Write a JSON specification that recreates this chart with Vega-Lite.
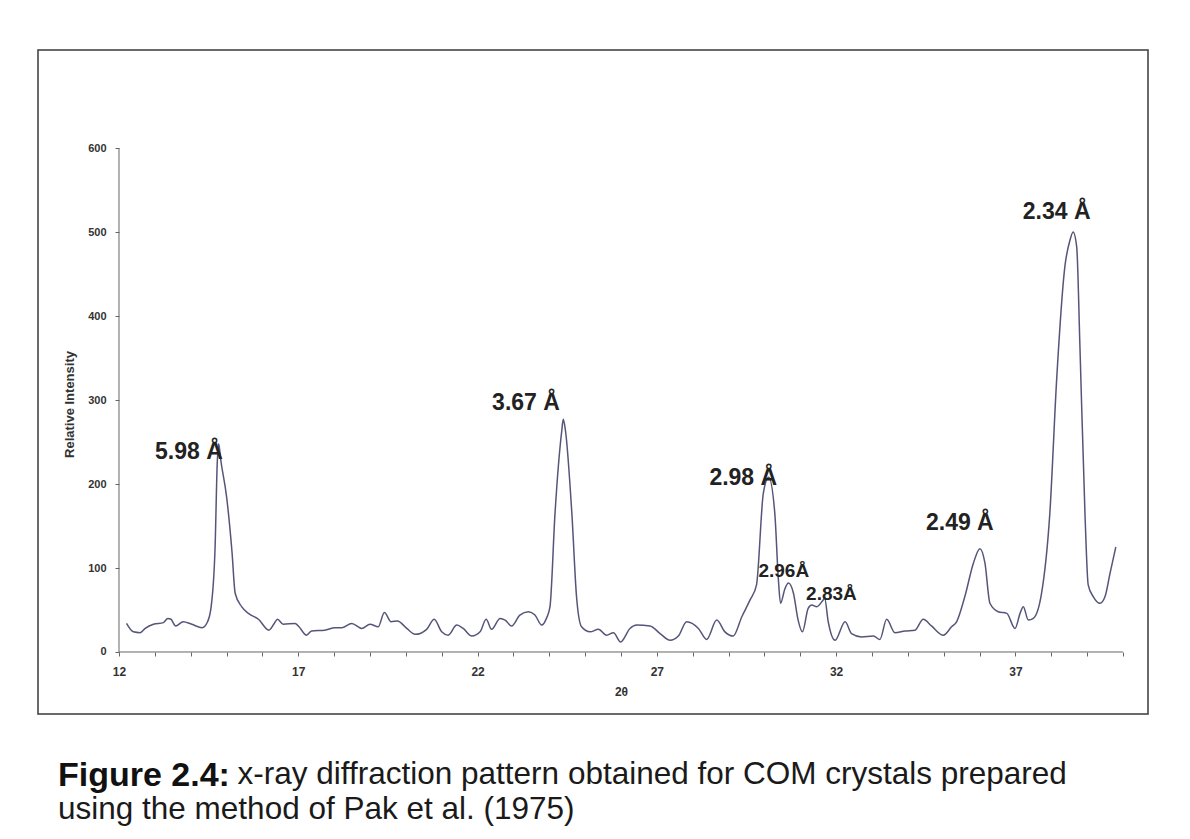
{
  "$schema": "https://vega.github.io/schema/vega-lite/v6.json",
  "width": 1110,
  "height": 664,
  "autosize": {"type": "none"},
  "padding": {"left": 38, "top": 50, "right": 42, "bottom": 125},
  "background": "white",
  "config": {
    "view": {"stroke": "#3a3a3a", "strokeWidth": 1.5},
    "font": "Liberation Sans"
  },
  "title": {
    "text": "Figure 2.4:",
    "subtitle": [
      "\u200B\u2003\u2003\u2003\u2003\u2003\u2002\u2009x-ray diffraction pattern obtained for COM crystals prepared",
      "using the method of Pak et al. (1975)"
    ],
    "orient": "bottom",
    "anchor": "start",
    "frame": "group",
    "offset": 45,
    "dx": 20,
    "font": "Liberation Sans",
    "fontSize": 34,
    "fontWeight": "bold",
    "color": "#111111",
    "lineHeight": 34,
    "subtitleFont": "Liberation Sans",
    "subtitleFontSize": 31.5,
    "subtitleFontWeight": "normal",
    "subtitleColor": "#1a1a1a",
    "subtitleLineHeight": 35,
    "subtitlePadding": -34
  },
  "resolve": {"axis": {"x": "independent"}},
  "datasets": {
    "xrd": [
      {"two_theta": 12.21, "intensity": 34},
      {"two_theta": 12.40, "intensity": 24},
      {"two_theta": 12.59, "intensity": 23},
      {"two_theta": 12.73, "intensity": 28},
      {"two_theta": 12.96, "intensity": 33},
      {"two_theta": 13.24, "intensity": 35},
      {"two_theta": 13.36, "intensity": 40},
      {"two_theta": 13.45, "intensity": 39},
      {"two_theta": 13.58, "intensity": 31},
      {"two_theta": 13.79, "intensity": 36},
      {"two_theta": 14.03, "intensity": 33},
      {"two_theta": 14.32, "intensity": 29},
      {"two_theta": 14.47, "intensity": 36},
      {"two_theta": 14.57, "intensity": 54},
      {"two_theta": 14.68, "intensity": 125},
      {"two_theta": 14.74, "intensity": 225},
      {"two_theta": 14.78, "intensity": 248},
      {"two_theta": 14.84, "intensity": 228},
      {"two_theta": 15.00, "intensity": 185},
      {"two_theta": 15.15, "intensity": 120},
      {"two_theta": 15.24, "intensity": 70},
      {"two_theta": 15.42, "intensity": 54},
      {"two_theta": 15.61, "intensity": 46},
      {"two_theta": 15.89, "intensity": 39},
      {"two_theta": 16.18, "intensity": 26},
      {"two_theta": 16.33, "intensity": 34},
      {"two_theta": 16.42, "intensity": 39},
      {"two_theta": 16.58, "intensity": 33},
      {"two_theta": 16.91, "intensity": 34},
      {"two_theta": 17.02, "intensity": 30},
      {"two_theta": 17.23, "intensity": 20},
      {"two_theta": 17.37, "intensity": 25},
      {"two_theta": 17.74, "intensity": 26},
      {"two_theta": 18.02, "intensity": 29},
      {"two_theta": 18.21, "intensity": 29},
      {"two_theta": 18.49, "intensity": 34},
      {"two_theta": 18.77, "intensity": 28},
      {"two_theta": 19.00, "intensity": 33},
      {"two_theta": 19.23, "intensity": 30},
      {"two_theta": 19.40, "intensity": 47},
      {"two_theta": 19.59, "intensity": 36},
      {"two_theta": 19.77, "intensity": 37},
      {"two_theta": 19.98, "intensity": 30},
      {"two_theta": 20.26, "intensity": 21},
      {"two_theta": 20.58, "intensity": 27},
      {"two_theta": 20.79, "intensity": 39},
      {"two_theta": 21.00, "intensity": 24},
      {"two_theta": 21.18, "intensity": 20},
      {"two_theta": 21.42, "intensity": 32},
      {"two_theta": 21.60, "intensity": 28},
      {"two_theta": 21.84, "intensity": 19},
      {"two_theta": 22.07, "intensity": 24},
      {"two_theta": 22.24, "intensity": 39},
      {"two_theta": 22.39, "intensity": 27},
      {"two_theta": 22.63, "intensity": 40},
      {"two_theta": 22.77, "intensity": 38},
      {"two_theta": 22.95, "intensity": 31},
      {"two_theta": 23.18, "intensity": 44},
      {"two_theta": 23.42, "intensity": 48},
      {"two_theta": 23.60, "intensity": 44},
      {"two_theta": 23.79, "intensity": 32},
      {"two_theta": 23.92, "intensity": 40},
      {"two_theta": 24.02, "intensity": 54},
      {"two_theta": 24.16, "intensity": 165},
      {"two_theta": 24.35, "intensity": 264},
      {"two_theta": 24.39, "intensity": 277},
      {"two_theta": 24.45, "intensity": 264},
      {"two_theta": 24.63, "intensity": 165},
      {"two_theta": 24.76, "intensity": 66},
      {"two_theta": 24.90, "intensity": 30},
      {"two_theta": 25.14, "intensity": 24},
      {"two_theta": 25.37, "intensity": 27},
      {"two_theta": 25.60, "intensity": 20},
      {"two_theta": 25.79, "intensity": 23},
      {"two_theta": 25.99, "intensity": 12},
      {"two_theta": 26.25, "intensity": 28},
      {"two_theta": 26.44, "intensity": 32},
      {"two_theta": 26.81, "intensity": 31},
      {"two_theta": 27.09, "intensity": 22},
      {"two_theta": 27.37, "intensity": 14},
      {"two_theta": 27.60, "intensity": 19},
      {"two_theta": 27.83, "intensity": 36},
      {"two_theta": 28.16, "intensity": 28},
      {"two_theta": 28.39, "intensity": 15},
      {"two_theta": 28.67, "intensity": 38},
      {"two_theta": 28.90, "intensity": 24},
      {"two_theta": 29.13, "intensity": 19},
      {"two_theta": 29.37, "intensity": 42},
      {"two_theta": 29.60, "intensity": 62},
      {"two_theta": 29.78, "intensity": 80},
      {"two_theta": 29.97, "intensity": 189},
      {"two_theta": 30.12, "intensity": 208},
      {"two_theta": 30.29, "intensity": 165},
      {"two_theta": 30.39, "intensity": 86},
      {"two_theta": 30.45, "intensity": 58},
      {"two_theta": 30.57, "intensity": 75},
      {"two_theta": 30.67, "intensity": 82},
      {"two_theta": 30.81, "intensity": 70},
      {"two_theta": 30.94, "intensity": 38},
      {"two_theta": 31.06, "intensity": 24},
      {"two_theta": 31.22, "intensity": 52},
      {"two_theta": 31.32, "intensity": 56},
      {"two_theta": 31.46, "intensity": 54},
      {"two_theta": 31.64, "intensity": 62},
      {"two_theta": 31.68, "intensity": 64},
      {"two_theta": 31.78, "intensity": 36},
      {"two_theta": 31.97, "intensity": 14},
      {"two_theta": 32.25, "intensity": 36},
      {"two_theta": 32.43, "intensity": 22},
      {"two_theta": 32.71, "intensity": 18},
      {"two_theta": 33.04, "intensity": 19},
      {"two_theta": 33.22, "intensity": 15},
      {"two_theta": 33.41, "intensity": 39},
      {"two_theta": 33.64, "intensity": 23},
      {"two_theta": 33.92, "intensity": 25},
      {"two_theta": 34.20, "intensity": 26},
      {"two_theta": 34.43, "intensity": 39},
      {"two_theta": 34.66, "intensity": 31},
      {"two_theta": 34.99, "intensity": 20},
      {"two_theta": 35.22, "intensity": 30},
      {"two_theta": 35.36, "intensity": 36},
      {"two_theta": 35.59, "intensity": 66},
      {"two_theta": 35.83, "intensity": 106},
      {"two_theta": 36.01, "intensity": 123},
      {"two_theta": 36.15, "intensity": 106},
      {"two_theta": 36.29, "intensity": 58},
      {"two_theta": 36.52, "intensity": 48},
      {"two_theta": 36.76, "intensity": 46},
      {"two_theta": 36.99, "intensity": 28},
      {"two_theta": 37.13, "intensity": 46},
      {"two_theta": 37.22, "intensity": 54},
      {"two_theta": 37.36, "intensity": 38},
      {"two_theta": 37.50, "intensity": 40},
      {"two_theta": 37.73, "intensity": 70},
      {"two_theta": 37.96, "intensity": 165},
      {"two_theta": 38.15, "intensity": 324},
      {"two_theta": 38.38, "intensity": 459},
      {"two_theta": 38.52, "intensity": 490},
      {"two_theta": 38.61, "intensity": 500},
      {"two_theta": 38.71, "intensity": 482},
      {"two_theta": 38.80, "intensity": 363},
      {"two_theta": 38.94, "intensity": 165},
      {"two_theta": 39.03, "intensity": 80},
      {"two_theta": 39.17, "intensity": 66},
      {"two_theta": 39.36, "intensity": 58},
      {"two_theta": 39.50, "intensity": 66},
      {"two_theta": 39.64, "intensity": 94},
      {"two_theta": 39.80, "intensity": 125}
    ],
    "major": [
      {"label": "5.98 Å", "two_theta": 13.95, "intensity": 238},
      {"label": "3.67 Å", "two_theta": 23.35, "intensity": 296},
      {"label": "2.98 Å", "two_theta": 29.41, "intensity": 207},
      {"label": "2.49 Å", "two_theta": 35.45, "intensity": 153},
      {"label": "2.34 Å", "two_theta": 38.15, "intensity": 524}
    ],
    "minor": [
      {"label": "2.96Å", "two_theta": 30.54, "intensity": 96},
      {"label": "2.83Å", "two_theta": 31.87, "intensity": 69}
    ]
  },
  "layer": [
    {
      "data": {"name": "xrd"},
      "mark": {"type": "line", "interpolate": "monotone", "color": "#55557a", "strokeWidth": 1.5},
      "encoding": {
        "x": {
          "field": "two_theta",
          "type": "quantitative",
          "scale": {"domain": [9.741, 40.698], "nice": false, "zero": false},
          "axis": {
            "orient": "bottom",
            "values": [12, 17, 22, 27, 32, 37],
            "labelOverlap": false,
            "labelFlush": false,
            "offset": -62,
            "domain": false,
            "grid": false,
            "tickSize": 4,
            "tickColor": "#666666",
            "labelFont": "Liberation Sans",
            "labelFontWeight": "bold",
            "labelFontSize": 12,
            "labelColor": "#333333",
            "labelPadding": 10,
            "title": "2θ",
            "titleFont": "Liberation Sans",
            "titleFontSize": 12,
            "titleFontWeight": "bold",
            "titleColor": "#333333",
            "titlePadding": 9,
            "titleX": 583
          }
        },
        "y": {
          "field": "intensity",
          "type": "quantitative",
          "scale": {"domain": [-73.81, 716.67], "nice": false, "zero": false},
          "axis": {
            "values": [0, 100, 200, 300, 400, 500, 600],
            "offset": -81,
            "domain": false,
            "grid": false,
            "tickSize": 4,
            "tickColor": "#666666",
            "labelFont": "Liberation Sans",
            "labelFontWeight": "bold",
            "labelFontSize": 11,
            "labelColor": "#333333",
            "labelPadding": 9,
            "title": "Relative Intensity",
            "titleFont": "Liberation Sans",
            "titleFontSize": 13,
            "titleFontWeight": "bold",
            "titleColor": "#333333",
            "titlePadding": 11,
            "titleY": 354
          }
        }
      }
    },
    {
      "data": {"values": [{}]},
      "mark": {"type": "rule", "color": "#666666", "strokeWidth": 1},
      "encoding": {
        "x": {
          "datum": 12,
          "axis": {
            "orient": "bottom",
            "values": [13, 14, 15, 16, 18, 19, 20, 21, 23, 24, 25, 26, 28, 29, 30, 31, 33, 34, 35, 36, 38, 39, 40],
            "labels": false,
            "title": null,
            "offset": -62,
            "domain": false,
            "grid": false,
            "tickSize": 4,
            "tickColor": "#666666"
          }
        },
        "x2": {"datum": 40},
        "y": {"datum": 0}
      }
    },
    {
      "data": {"values": [{}]},
      "mark": {"type": "rule", "color": "#666666", "strokeWidth": 1},
      "encoding": {"x": {"datum": 12, "axis": null}, "y": {"datum": 0}, "y2": {"datum": 600}}
    },
    {
      "data": {"name": "major"},
      "mark": {"type": "text", "font": "Liberation Sans", "fontWeight": "bold", "fontSize": 23, "color": "#222222", "align": "center", "baseline": "middle"},
      "encoding": {
        "x": {"field": "two_theta", "type": "quantitative", "axis": null},
        "y": {"field": "intensity", "type": "quantitative"},
        "text": {"field": "label"}
      }
    },
    {
      "data": {"name": "minor"},
      "mark": {"type": "text", "font": "Liberation Sans", "fontWeight": "bold", "fontSize": 19, "color": "#222222", "align": "center", "baseline": "middle"},
      "encoding": {
        "x": {"field": "two_theta", "type": "quantitative", "axis": null},
        "y": {"field": "intensity", "type": "quantitative"},
        "text": {"field": "label"}
      }
    }
  ]
}
